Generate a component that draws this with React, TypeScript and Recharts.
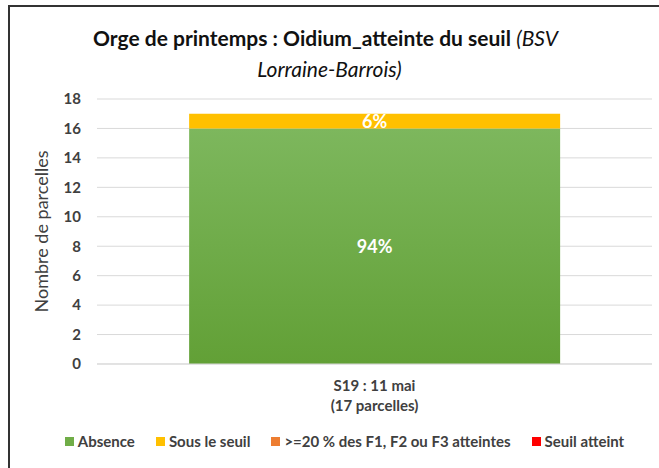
import React from "react";
import { BarChart, Bar, XAxis, YAxis, CartesianGrid, LabelList } from "recharts";

// ---- data ----
const categories = ["S19 : 11 mai|(17 parcelles)"];
const absence = [16];
const sousSeuil = [1];
const f123 = [0];
const seuilAtteint = [0];
const yTicks = [0, 2, 4, 6, 8, 10, 12, 14, 16, 18];

const seriesNames = ["Absence", "Sous le seuil", ">=20 % des F1, F2 ou F3 atteintes", "Seuil atteint"];
const COLORS = ["#70AD47", "#FFC000", "#ED7D31", "#FF0000"];

const FONT = "Lato, 'Open Sans', sans-serif";

const data = categories.map((c, i) => ({
  name: c,
  absence: absence[i],
  sousSeuil: sousSeuil[i],
  f123: f123[i],
  seuilAtteint: seuilAtteint[i],
  total: absence[i] + sousSeuil[i] + f123[i] + seuilAtteint[i],
}));

const pctLabel = (key: string) => (props: any) => {
  const { x, y, width, height, index } = props;
  const row = data[index];
  const v = (row as any)[key];
  if (!v) return null;
  const pct = Math.round((v / row.total) * 100) + "%";
  return (
    <text
      x={x + width / 2}
      y={y + height / 2}
      textAnchor="middle"
      dominantBaseline="central"
      fill="#fff"
      fontWeight={700}
      fontSize={18}
      fontFamily={FONT}
    >
      {pct}
    </text>
  );
};

const CatTick = (props: any) => {
  const { x, y, payload } = props;
  const lines = String(payload.value).split("|");
  return (
    <g>
      {lines.map((l, i) => (
        <text
          key={i}
          x={x}
          y={y + 19 + i * 20}
          textAnchor="middle"
          fill="#404040"
          fontWeight={700}
          fontSize={15}
          fontFamily={FONT}
        >
          {l}
        </text>
      ))}
    </g>
  );
};

export default function App() {
  return (
    <div style={{ position: "absolute", left: 0, top: 0, width: 659, height: 468, background: "#fff", overflow: "hidden" }}>
      <div
        style={{
          position: "absolute",
          left: 8,
          top: 5,
          width: 700,
          height: 500,
          borderLeft: "2px solid #333",
          borderTop: "2px solid #333",
        }}
      />
      <div
        style={{
          position: "absolute",
          left: 0,
          width: 659,
          top: 22,
          textAlign: "center",
          fontFamily: FONT,
          fontSize: 21,
          lineHeight: "31px",
          color: "#111",
        }}
      >
        <div style={{ marginLeft: -8 }}>
          <b>Orge de printemps : Oidium_atteinte du seuil</b> <i>(BSV</i>
        </div>
        <div>
          <i>Lorraine-Barrois)</i>
        </div>
      </div>
      <div style={{ position: "absolute", left: 0, top: 0 }}>
        <BarChart
          width={659}
          height={468}
          data={data}
          margin={{ top: 99, right: 7, bottom: 74, left: 0 }}
          barCategoryGap="16.6%"
        >
          <defs>
            <linearGradient id="greenGrad" x1="0" y1="0" x2="0" y2="1">
              <stop offset="0%" stopColor="#7DB75D" />
              <stop offset="100%" stopColor="#62A036" />
            </linearGradient>
          </defs>
          <CartesianGrid vertical={false} stroke="#D9D9D9" />
          <XAxis
            dataKey="name"
            height={30}
            tick={<CatTick />}
            tickLine={false}
            axisLine={{ stroke: "#D9D9D9" }}
            interval={0}
          />
          <YAxis
            width={97}
            domain={[0, 18]}
            ticks={yTicks}
            tickSize={0}
            tickMargin={16}
            axisLine={false}
            tick={{ fill: "#404040", fontWeight: 700, fontSize: 15, fontFamily: FONT }}
            label={{
              value: "Nombre de parcelles",
              angle: -90,
              position: "insideLeft",
              dx: 37,
              dy: 0,
              style: { textAnchor: "middle", fill: "#404040", fontSize: 18, fontFamily: FONT },
            }}
          />
          <Bar dataKey="absence" name={seriesNames[0]} stackId="a" fill="url(#greenGrad)" isAnimationActive={false}>
            <LabelList dataKey="absence" content={pctLabel("absence")} />
          </Bar>
          <Bar dataKey="sousSeuil" name={seriesNames[1]} stackId="a" fill={COLORS[1]} isAnimationActive={false}>
            <LabelList dataKey="sousSeuil" content={pctLabel("sousSeuil")} />
          </Bar>
          <Bar dataKey="f123" name={seriesNames[2]} stackId="a" fill={COLORS[2]} isAnimationActive={false} />
          <Bar dataKey="seuilAtteint" name={seriesNames[3]} stackId="a" fill={COLORS[3]} isAnimationActive={false} />
        </BarChart>
      </div>
      <div
        style={{
          position: "absolute",
          left: 0,
          width: 659,
          top: 432,
          display: "flex",
          justifyContent: "center",
          gap: 21,
          fontFamily: FONT,
          fontSize: 15,
          fontWeight: 700,
          color: "#404040",
          paddingLeft: 30,
          boxSizing: "border-box",
        }}
      >
        {seriesNames.map((n, i) => (
          <span key={n} style={{ display: "flex", alignItems: "center" }}>
            <span style={{ width: 9, height: 9, background: COLORS[i], marginRight: 4, display: "inline-block" }} />
            {n}
          </span>
        ))}
      </div>
    </div>
  );
}
